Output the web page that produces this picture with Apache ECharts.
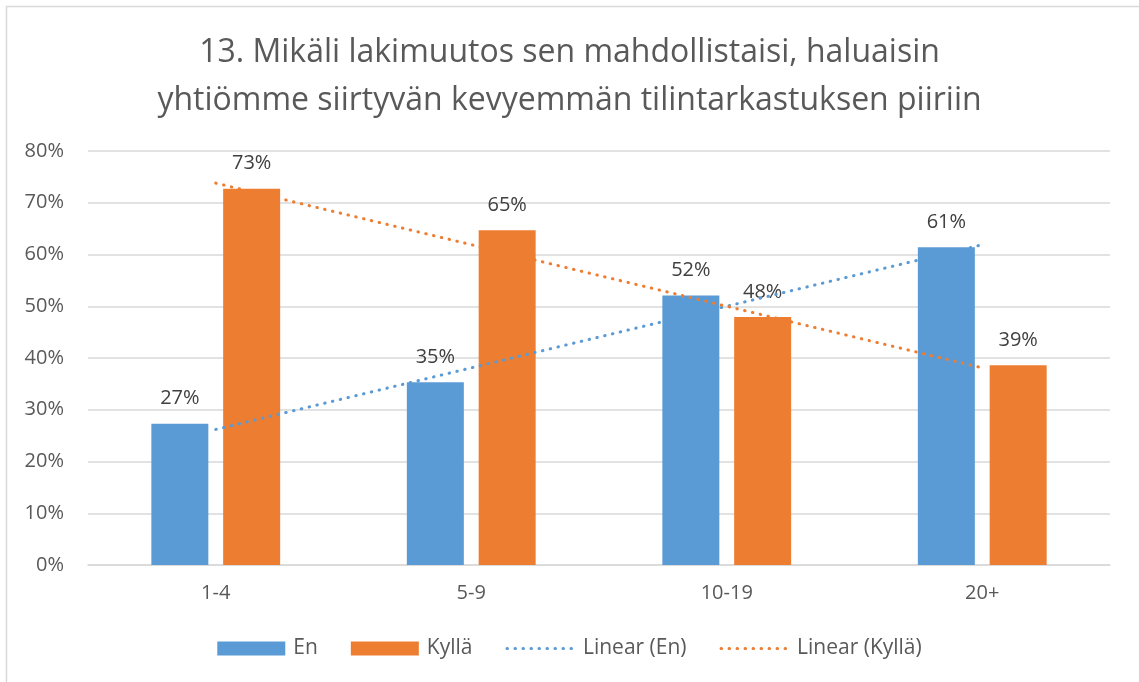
<!DOCTYPE html>
<html>
<head>
<meta charset="utf-8">
<script src="https://cdn.jsdelivr.net/npm/echarts@6/dist/echarts.min.js"></script>
<style>html,body{margin:0;padding:0;background:#fff;}#c{width:1139px;height:682px;}</style>
</head>
<body>
<div id="c"></div>
<script>
const categories = ['1-4', '5-9', '10-19', '20+'];
const enValues = [27.3, 35.3, 52.1, 61.4];
const kyllaValues = [72.7, 64.7, 47.9, 38.6];
// trendline endpoints (first and last category)
const trendEn = [26.2, 61.9];
const trendKylla = [73.8, 38.1];
const yTicks = [0, 10, 20, 30, 40, 50, 60, 70, 80];
const titleLines = ['13. Mikäli lakimuutos sen mahdollistaisi, haluaisin', 'yhtiömme siirtyvän kevyemmän tilintarkastuksen piiriin'];

const FONT = '"Open Sans"';
const chart = echarts.init(document.getElementById('c'));
const last = categories.length - 1;
const dotted = [0.5, 7.5];
chart.setOption({
  animation: false,
  graphic: [{
    type: 'rect', shape: {x: 6.5, y: 6.5, width: 1300, height: 1000},
    style: {fill: 'none', stroke: '#d9d9d9', lineWidth: 1.5}, silent: true
  }],
  title: {
    text: titleLines.join('\n'), left: 'center', top: 24,
    textStyle: {fontFamily: FONT, fontSize: 32, fontWeight: 'normal', color: '#595959', lineHeight: 48}
  },
  legend: {
    bottom: 18, left: 'center', itemWidth: 68, itemHeight: 14, itemGap: 33,
    textStyle: {fontFamily: FONT, fontSize: 21, color: '#595959', padding: [0, 0, 0, 3]},
    data: [
      {name: 'En', icon: 'rect'},
      {name: 'Kyllä', icon: 'rect'},
      {name: 'Linear (En)', itemStyle: {color: 'transparent', borderWidth: 0},
        lineStyle: {width: 3, type: dotted, cap: 'round', color: '#5b9bd5'}},
      {name: 'Linear (Kyllä)', itemStyle: {color: 'transparent', borderWidth: 0},
        lineStyle: {width: 3, type: dotted, cap: 'round', color: '#ed7d31'}}
    ]
  },
  grid: {left: 88, right: 29, top: 151, bottom: 117},
  xAxis: {
    type: 'category', data: categories,
    axisLine: {lineStyle: {color: '#d9d9d9', width: 1.5}},
    axisTick: {show: false},
    axisLabel: {fontFamily: FONT, fontSize: 20, color: '#595959', margin: 18}
  },
  yAxis: {
    type: 'value', min: yTicks[0], max: yTicks[yTicks.length - 1], interval: 10,
    axisLine: {show: false}, axisTick: {show: false},
    splitLine: {lineStyle: {color: '#d9d9d9', width: 1.5}},
    axisLabel: {fontFamily: FONT, fontSize: 20, color: '#595959', margin: 24, formatter: v => v + '%'}
  },
  series: [
    {
      name: 'En', type: 'bar', data: enValues, barWidth: 57, barGap: '26%',
      itemStyle: {color: '#5b9bd5'},
      label: {show: true, position: 'top', distance: 15, fontFamily: FONT, fontSize: 20, color: '#404040',
        formatter: p => Math.round(p.value) + '%'}
    },
    {
      name: 'Kyllä', type: 'bar', data: kyllaValues, barWidth: 57,
      itemStyle: {color: '#ed7d31'},
      label: {show: true, position: 'top', distance: 15, fontFamily: FONT, fontSize: 20, color: '#404040',
        formatter: p => Math.round(p.value) + '%'}
    },
    {
      name: 'Linear (En)', type: 'line', data: [[0, trendEn[0]], [last, trendEn[1]]],
      symbol: 'none', z: 5,
      itemStyle: {color: '#5b9bd5'},
      lineStyle: {color: '#5b9bd5', width: 3, type: dotted, cap: 'round'}
    },
    {
      name: 'Linear (Kyllä)', type: 'line', data: [[0, trendKylla[0]], [last, trendKylla[1]]],
      symbol: 'none', z: 5,
      itemStyle: {color: '#ed7d31'},
      lineStyle: {color: '#ed7d31', width: 3, type: dotted, cap: 'round'}
    }
  ]
});
</script>
</body>
</html>
